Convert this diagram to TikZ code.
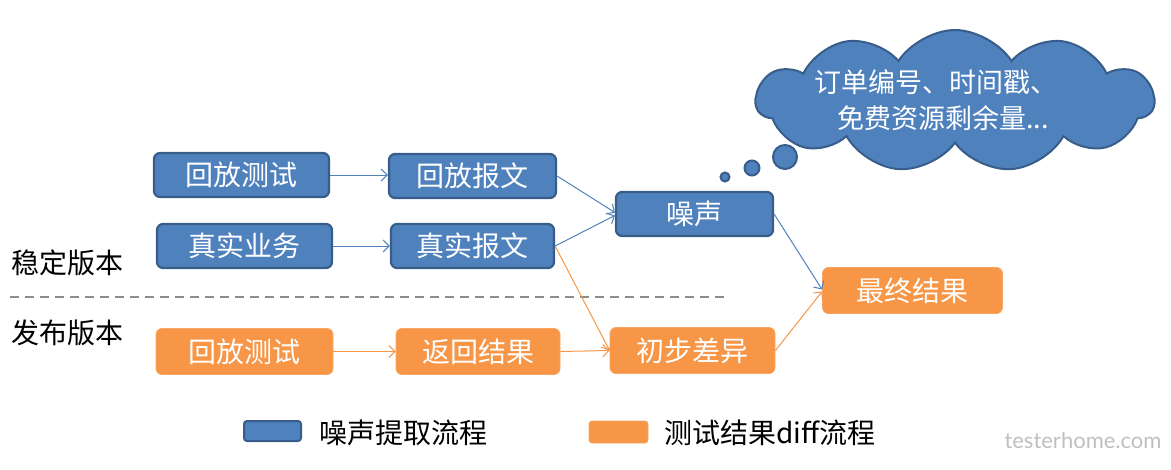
\documentclass[tikz,border=0pt]{standalone}
\usepackage{fontspec}
\setmainfont{Noto Sans CJK SC}
\newfontfamily\wmfont{Lato}
\usetikzlibrary{arrows.meta,shapes.symbols}
\definecolor{bfill}{HTML}{4F81BD}
\definecolor{bdraw}{HTML}{385D8A}
\definecolor{ofill}{HTML}{F79646}
\definecolor{dgray}{HTML}{8C8C8C}
\begin{document}
\begin{tikzpicture}[x=1pt,y=-1pt,
  txt/.style={font=\fontsize{28}{32}\selectfont},
  bbox/.style={txt, draw=bdraw, line width=2.2pt, fill=bfill, rounded corners=6pt, text=white, minimum height=44pt, inner sep=0pt},
  obox/.style={txt, draw=ofill!85!white, line width=0.8pt, fill=ofill, rounded corners=6pt, text=white, minimum height=46pt, inner sep=0pt},
  barr/.style={draw=bfill, line width=1pt, -{Straight Barb[length=6pt,width=12pt,line width=1pt]}},
  oarr/.style={draw=ofill, line width=1pt, -{Straight Barb[length=6pt,width=12pt,line width=1pt]}},
  bubble/.style={circle, draw=bdraw, line width=2pt, fill=bfill, inner sep=0pt},
  lbl/.style={txt, text=black, inner sep=0pt}
]
\useasboundingbox (0,0) rectangle (1171,469);

% cloud
\node[cloud, cloud puffs=11, cloud puff arc=115, aspect=2.8, draw=bdraw, line width=2pt, fill=bfill,
      minimum width=398pt, minimum height=142pt, inner sep=0pt] (cloud) at (955,101) {};
\node[font=\fontsize{27}{36}\selectfont, text=white, align=center, inner sep=0pt] (cloudtext) at (936,100)
  {订单编号、时间戳、\\\hspace*{14pt}免费资源剩余量...};
\node[bubble, minimum size=24pt] (t1) at (785,157) {};
\node[bubble, minimum size=15pt] (t2) at (752,168) {};
\node[bubble, minimum size=9pt] (t3) at (725,177) {};

% blue flow
\node[bbox, minimum width=175pt] (b1) at (241.5,175) {回放测试};
\node[bbox, minimum width=167pt] (b2) at (472.5,176) {回放报文};
\node[bbox, minimum width=175pt] (b3) at (244.5,246) {真实业务};
\node[bbox, minimum width=163pt] (b4) at (472.5,246) {真实报文};
\node[bbox, minimum width=157pt] (noise) at (694.5,214) {噪声};

% orange flow
\node[obox, minimum width=177pt] (o1) at (244.5,351.5) {回放测试};
\node[obox, minimum width=164pt] (o2) at (478,351.5) {返回结果};
\node[obox, minimum width=165pt] (diff) at (692.5,350.5) {初步差异};
\node[obox, minimum width=180pt] (final) at (912.5,290.5) {最终结果};

% side labels
\node[lbl] (stable) at (67.5,263) {稳定版本};
\node[lbl] (release) at (67.5,333) {发布版本};

% divider
\coordinate (dl) at (10,297);
\coordinate (dr) at (728,297);
\draw[dgray, line width=1.3pt, dash pattern=on 9pt off 6pt] (dl) -- (dr);

% connectors
\draw[barr] (b1.east) -- (b1.east -| b2.west);
\draw[barr] (b3.east) -- (b3.east -| b4.west);
\draw[barr] (b2.east) -- ([yshift=1.5pt]noise.west);
\draw[barr] (b4.east) -- ([yshift=-1.5pt]noise.west);
\draw[oarr] (b4.east) -- (diff.west);
\draw[oarr] (o1.east) -- (o1.east -| o2.west);
\draw[oarr] (o2.east) -- (diff.west);
\draw[barr] (noise.east) -- ([yshift=1pt]final.west);
\draw[oarr] (diff.east) -- ([yshift=-1pt]final.west);

% legend
\node[draw=bdraw, line width=2pt, fill=bfill, rounded corners=3pt, minimum width=57pt, minimum height=20pt, inner sep=0pt] (lb) at (272.5,431) {};
\node[lbl, anchor=west] (lbt) at (319,433) {噪声提取流程};
\node[draw=ofill!85!white, line width=0.8pt, fill=ofill, rounded corners=3pt, minimum width=59pt, minimum height=22pt, inner sep=0pt] (lo) at (618.5,432) {};
\node[lbl, anchor=west] (lot) at (664,433) {测试结果diff流程};

% watermark
\node[text=black!25, font=\wmfont\fontsize{22}{22}\selectfont, inner sep=0pt] (wm) at (1083,440) {testerhome.com};
\end{tikzpicture}
\end{document}
